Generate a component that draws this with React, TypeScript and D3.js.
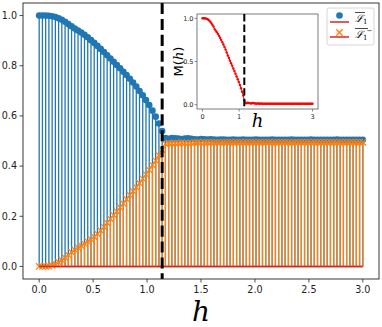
import React from "react";
import * as d3 from "d3";

const hValues = [
  0.0, 0.03, 0.06, 0.09, 0.12, 0.15, 0.18, 0.21, 0.24, 0.27,
  0.3, 0.33, 0.36, 0.39, 0.42, 0.45, 0.48, 0.51, 0.54, 0.57,
  0.6, 0.63, 0.66, 0.69, 0.72, 0.75, 0.78, 0.81, 0.84, 0.87,
  0.9, 0.93, 0.96, 0.99, 1.02, 1.05, 1.08, 1.11, 1.14, 1.17,
  1.2, 1.23, 1.26, 1.29, 1.32, 1.35, 1.38, 1.41, 1.44, 1.47,
  1.5, 1.53, 1.56, 1.59, 1.62, 1.65, 1.68, 1.71, 1.74, 1.77,
  1.8, 1.83, 1.86, 1.89, 1.92, 1.95, 1.98, 2.01, 2.04, 2.07,
  2.1, 2.13, 2.16, 2.19, 2.22, 2.25, 2.28, 2.31, 2.34, 2.37,
  2.4, 2.43, 2.46, 2.49, 2.52, 2.55, 2.58, 2.61, 2.64, 2.67,
  2.7, 2.73, 2.76, 2.79, 2.82, 2.85, 2.88, 2.91, 2.94, 2.97,
  3.0,
];

const L1 = [
  1.0, 1.0, 1.0, 0.999, 0.997, 0.994, 0.989, 0.983, 0.975, 0.966,
  0.957, 0.948, 0.94, 0.932, 0.923, 0.913, 0.902, 0.891, 0.879, 0.867,
  0.855, 0.842, 0.829, 0.816, 0.803, 0.79, 0.776, 0.763, 0.748, 0.733,
  0.717, 0.699, 0.682, 0.663, 0.643, 0.621, 0.597, 0.57, 0.54, 0.512,
  0.509, 0.512, 0.511, 0.51, 0.508, 0.51, 0.511, 0.509, 0.507, 0.506,
  0.508, 0.507, 0.506, 0.507, 0.506, 0.505, 0.506, 0.506, 0.505, 0.505,
  0.506, 0.505, 0.505, 0.506, 0.505, 0.505, 0.505, 0.506, 0.505, 0.505,
  0.505, 0.505, 0.506, 0.505, 0.505, 0.505, 0.505, 0.505, 0.506, 0.505,
  0.505, 0.505, 0.505, 0.505, 0.506, 0.505, 0.505, 0.505, 0.505, 0.505,
  0.505, 0.505, 0.506, 0.505, 0.505, 0.505, 0.505, 0.505, 0.505, 0.505,
  0.505,
];

const L1bar = [
  0.0, 0.0, 0.0, 0.001, 0.004, 0.01, 0.017, 0.025, 0.035, 0.046,
  0.057, 0.066, 0.075, 0.083, 0.091, 0.099, 0.108, 0.118, 0.13, 0.143,
  0.158, 0.174, 0.19, 0.205, 0.22, 0.235, 0.251, 0.268, 0.285, 0.3,
  0.316, 0.332, 0.35, 0.367, 0.385, 0.404, 0.422, 0.443, 0.465, 0.489,
  0.493, 0.49, 0.491, 0.492, 0.494, 0.492, 0.491, 0.493, 0.494, 0.495,
  0.493, 0.494, 0.495, 0.494, 0.494, 0.495, 0.494, 0.495, 0.495, 0.495,
  0.494, 0.495, 0.495, 0.494, 0.495, 0.495, 0.495, 0.494, 0.495, 0.495,
  0.495, 0.495, 0.494, 0.495, 0.495, 0.495, 0.495, 0.495, 0.494, 0.495,
  0.495, 0.495, 0.495, 0.495, 0.494, 0.495, 0.495, 0.495, 0.495, 0.495,
  0.495, 0.495, 0.494, 0.495, 0.495, 0.495, 0.495, 0.495, 0.495, 0.495,
  0.495,
];

const Mh = [
  1.0, 1.0, 1.0, 0.998, 0.994, 0.986, 0.975, 0.962, 0.945, 0.925,
  0.905, 0.875, 0.858, 0.84, 0.82, 0.798, 0.775, 0.75, 0.724, 0.697,
  0.668, 0.638, 0.605, 0.57, 0.54, 0.51, 0.48, 0.45, 0.42, 0.39,
  0.358, 0.326, 0.295, 0.262, 0.228, 0.19, 0.15, 0.105, 0.05, 0.023,
  0.016, 0.022, 0.02, 0.018, 0.014, 0.018, 0.02, 0.016, 0.013, 0.011,
  0.015, 0.013, 0.011, 0.013, 0.012, 0.01, 0.012, 0.011, 0.01, 0.01,
  0.012, 0.01, 0.01, 0.012, 0.01, 0.01, 0.01, 0.012, 0.01, 0.01,
  0.01, 0.01, 0.012, 0.01, 0.01, 0.01, 0.01, 0.01, 0.012, 0.01,
  0.01, 0.01, 0.01, 0.01, 0.012, 0.01, 0.01, 0.01, 0.01, 0.01,
  0.01, 0.01, 0.012, 0.01, 0.01, 0.01, 0.01, 0.01, 0.01, 0.01,
  0.01,
];

const criticalH = 1.14;
const xTicks = [0, 0.5, 1.0, 1.5, 2.0, 2.5, 3.0];
const yTicks = [0, 0.2, 0.4, 0.6, 0.8, 1.0];
const insetXTicks = [0, 1, 3];
const insetYTicks = [0, 0.5, 1.0];

const BLUE = "#1f77b4";
const ORANGE = "#ff7f0e";
const RED = "#d62728";

export default function App() {
  const W = 382;
  const H = 327;
  const m = { left: 23, right: 379, top: 3, bottom: 279 };
  const x = d3.scaleLinear().domain([-0.15, 3.15]).range([m.left, m.right]);
  const y = d3.scaleLinear().domain([-0.05, 1.05]).range([m.bottom, m.top]);

  const ins = { left: 197, right: 318, top: 14, bottom: 109 };
  const ix = d3.scaleLinear().domain([-0.15, 3.15]).range([ins.left, ins.right]);
  const iy = d3.scaleLinear().domain([-0.05, 1.05]).range([ins.bottom, ins.top]);

  const insetLine = d3
    .line<number>()
    .x((_, i) => ix(hValues[i]))
    .y((d) => iy(d))(Mh) as string;

  const font = "DejaVu Sans, sans-serif";

  return (
    <svg width={W} height={H} style={{ position: "absolute", left: 0, top: 0 }}>
      <rect x={0} y={0} width={W} height={H} fill="#fff" />
      <defs>
        <clipPath id="mainclip">
          <rect x={m.left} y={m.top} width={m.right - m.left} height={m.bottom - m.top} />
        </clipPath>
      </defs>
      <g clipPath="url(#mainclip)">
        {L1.map((v, i) => (
          <line key={"bs" + i} x1={x(hValues[i])} x2={x(hValues[i])} y1={y(0)} y2={y(v)} stroke={BLUE} strokeWidth={1.3} />
        ))}
        {L1.map((v, i) => (
          <circle key={"bm" + i} cx={x(hValues[i])} cy={y(v)} r={3.3} fill={BLUE} />
        ))}
        <line x1={x(0)} x2={x(3)} y1={y(0)} y2={y(0)} stroke={RED} strokeWidth={1.5} />
        {L1bar.map((v, i) => (
          <line key={"os" + i} x1={x(hValues[i])} x2={x(hValues[i])} y1={y(0)} y2={y(v)} stroke={ORANGE} strokeWidth={1.3} />
        ))}
        {L1bar.map((v, i) => {
          const cx = x(hValues[i]);
          const cy = y(v);
          const s = 3.2;
          return (
            <path key={"om" + i} d={`M${cx - s},${cy - s}L${cx + s},${cy + s}M${cx - s},${cy + s}L${cx + s},${cy - s}`} stroke={ORANGE} strokeWidth={1.2} fill="none" />
          );
        })}
        <line x1={x(0)} x2={x(3)} y1={y(0)} y2={y(0)} stroke={RED} strokeWidth={1.5} />
        <line x1={x(criticalH)} x2={x(criticalH)} y1={m.top} y2={m.bottom} stroke="#000" strokeWidth={3} strokeDasharray="11.1,4.8" />
      </g>
      <rect x={m.left} y={m.top} width={m.right - m.left} height={m.bottom - m.top} fill="none" stroke="#222" strokeWidth={0.9} />
      {yTicks.map((t) => (
        <g key={"yt" + t}>
          <line x1={m.left - 3.5} x2={m.left} y1={y(t)} y2={y(t)} stroke="#222" strokeWidth={0.8} />
          <text x={m.left - 6} y={y(t)} dy="0.35em" textAnchor="end" fontFamily={font} fontSize={9.6} fill="#222">
            {t.toFixed(1)}
          </text>
        </g>
      ))}
      {xTicks.map((t) => (
        <g key={"xt" + t}>
          <line x1={x(t)} x2={x(t)} y1={m.bottom} y2={m.bottom + 3.5} stroke="#222" strokeWidth={0.8} />
          <text x={x(t)} y={m.bottom + 14} textAnchor="middle" fontFamily={font} fontSize={9.6} fill="#222">
            {t.toFixed(1)}
          </text>
        </g>
      ))}
      <text x={(m.left + m.right) / 2} y={321} textAnchor="middle" fontFamily="DejaVu Serif, serif" fontStyle="italic" fontSize={28} fill="#000">
        h
      </text>

      <rect x={ins.left} y={ins.top} width={ins.right - ins.left} height={ins.bottom - ins.top} fill="#fff" stroke="#444" strokeWidth={0.7} />
      <path d={insetLine} fill="none" stroke="red" strokeWidth={1} />
      {Mh.map((v, i) => (
        <circle key={"im" + i} cx={ix(hValues[i])} cy={iy(v)} r={1.2} fill="red" />
      ))}
      <line x1={ix(criticalH)} x2={ix(criticalH)} y1={ins.top} y2={ins.bottom} stroke="#000" strokeWidth={2} strokeDasharray="7.4,3.2" />
      {insetXTicks.map((t) => (
        <g key={"ixt" + t}>
          <line x1={ix(t)} x2={ix(t)} y1={ins.bottom} y2={ins.bottom + 2.5} stroke="#444" strokeWidth={0.6} />
          <text x={ix(t)} y={ins.bottom + 9.5} textAnchor="middle" fontFamily={font} fontSize={6.5} fill="#222">
            {t}
          </text>
        </g>
      ))}
      {insetYTicks.map((t) => (
        <g key={"iyt" + t}>
          <line x1={ins.left - 2.5} x2={ins.left} y1={iy(t)} y2={iy(t)} stroke="#444" strokeWidth={0.6} />
          <text x={ins.left - 3.5} y={iy(t)} dy="0.35em" textAnchor="end" fontFamily={font} fontSize={6.5} fill="#222">
            {t.toFixed(1)}
          </text>
        </g>
      ))}
      <text x={(ins.left + ins.right) / 2} y={127} textAnchor="middle" fontFamily="DejaVu Serif, serif" fontStyle="italic" fontSize={18} fill="#000">
        h
      </text>
      <text transform={`translate(182.5,${(ins.top + ins.bottom) / 2}) rotate(-90)`} textAnchor="middle" fontFamily={font} fontSize={13} fill="#000">
        M(<tspan fontFamily="DejaVu Serif, serif" fontStyle="italic">h</tspan>)
      </text>

      <rect x={327} y={8} width={47} height={37} rx={2} fill="#fff" fillOpacity={0.85} stroke="#ccc" strokeWidth={0.8} />
      <line x1={330} x2={349} y1={22} y2={22} stroke={RED} strokeWidth={1.5} />
      <circle cx={339.5} cy={15.5} r={3.3} fill={BLUE} />
      <line x1={330} x2={349} y1={37} y2={37} stroke={RED} strokeWidth={1.5} />
      <path d="M336.3,29.3L342.7,35.7M336.3,35.7L342.7,29.3" stroke={ORANGE} strokeWidth={1.3} fill="none" />
      <line x1={355} x2={365} y1={12.5} y2={12.5} stroke="#000" strokeWidth={0.7} />
      <text x={355} y={22} fontFamily="DejaVu Serif, serif" fontStyle="italic" fontSize={10} fill="#000">
        ℒ<tspan fontSize={7} dy={2} fontStyle="normal">1</tspan>
      </text>
      <line x1={355} x2={368} y1={28.5} y2={28.5} stroke="#000" strokeWidth={0.7} />
      <text x={355} y={38} fontFamily="DejaVu Serif, serif" fontStyle="italic" fontSize={10} fill="#000">
        ℒ<tspan fontSize={7} dy={2} fontStyle="normal">1</tspan>
        <tspan fontSize={7} dy={-7} dx={-1} fontStyle="normal">−</tspan>
      </text>
    </svg>
  );
}
